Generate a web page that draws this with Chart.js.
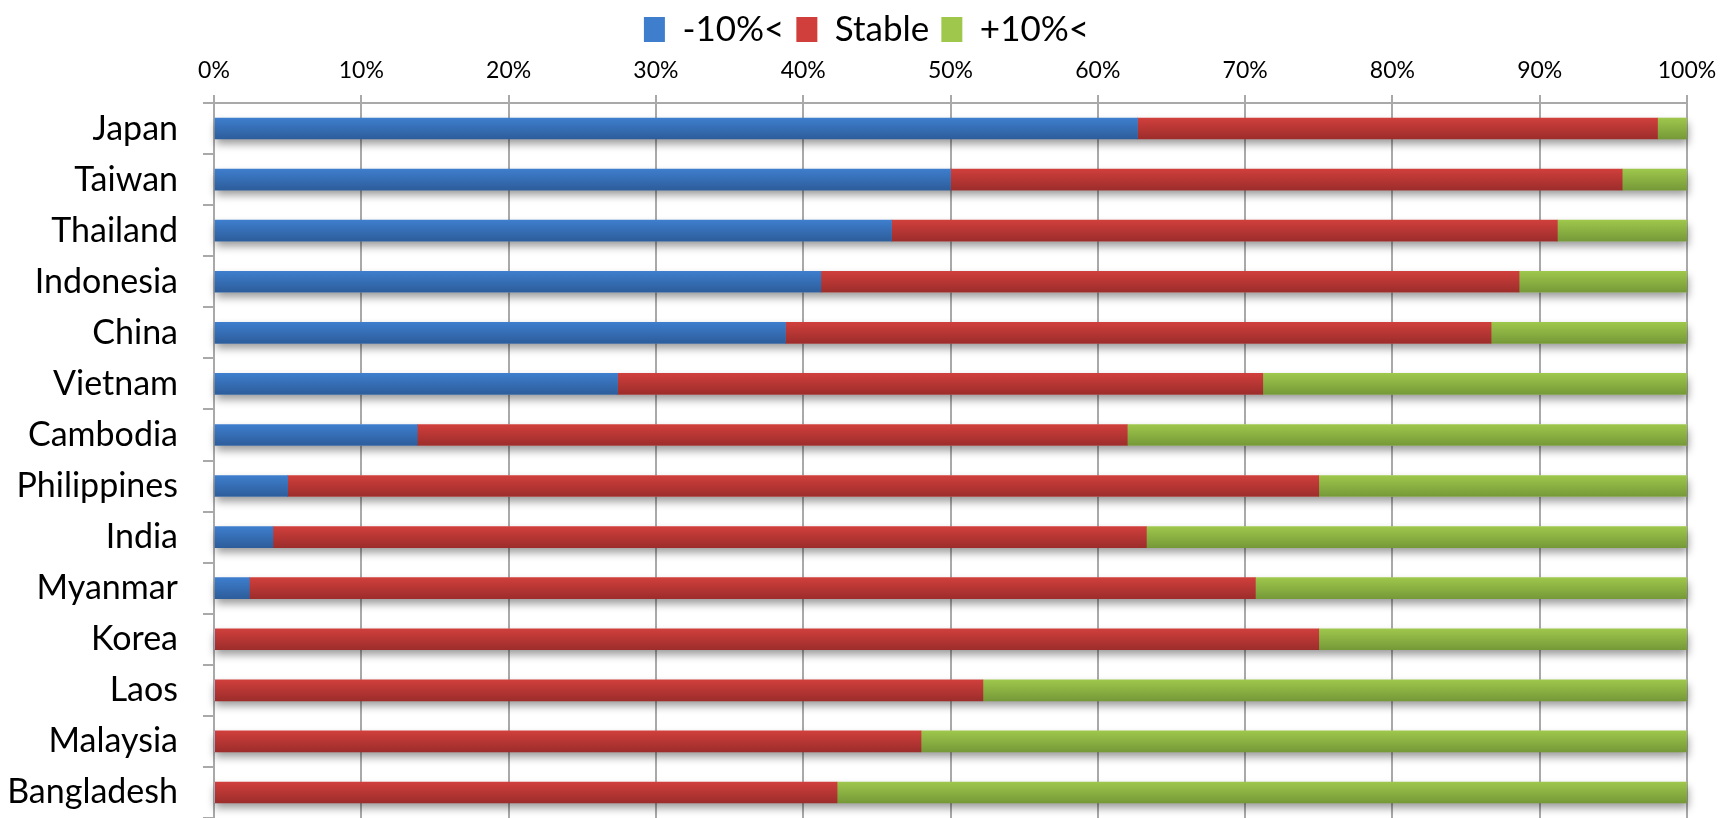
<!DOCTYPE html>
<html>
<head>
<meta charset="utf-8">
<script src="https://cdn.jsdelivr.net/npm/chart.js@4/dist/chart.umd.min.js"></script>
<style>
  html, body { margin: 0; padding: 0; background: #fff; }
  #wrap { width: 1733px; height: 818px; }
</style>
</head>
<body>
<div id="wrap"><canvas id="chart"></canvas></div>
<script>
const COUNTRIES = [ 'Japan', 'Taiwan', 'Thailand', 'Indonesia', 'China', 'Vietnam', 'Cambodia',
  'Philippines', 'India', 'Myanmar', 'Korea', 'Laos', 'Malaysia', 'Bangladesh' ];

// share of answers per country, in percent
const DOWN = [ 62.7, 50.0, 46.0, 41.2, 38.8, 27.4, 13.8, 5.0, 4.0, 2.4, 0, 0, 0, 0 ];
const STABLE = [ 35.3, 45.6, 45.2, 47.4, 47.9, 43.8, 48.2, 70.0, 59.3, 68.3, 75.0, 52.2, 48.0, 42.3 ];
const UP = [ 2.0, 4.4, 8.8, 11.4, 13.3, 28.8, 38.0, 25.0, 36.7, 29.3, 25.0, 47.8, 52.0, 57.7 ];

const FONT = 'Lato, "Open Sans", sans-serif';
const BAR = 21;
const GRID = '#a9a9a9';

// vertical light-to-dark fill for each bar
let shade = function(top, bottom, flat) {
  return function(c) {
    if (c.type !== 'data' || !c.chart.chartArea) return flat;
    let y = c.chart.scales.y.getPixelForValue(c.dataIndex);
    let g = c.chart.ctx.createLinearGradient(0, y - BAR / 2, 0, y + BAR / 2);
    g.addColorStop(0, top);
    g.addColorStop(1, bottom);
    return g;
  };
};

// soft shadow under each full row, painted before the bars
let rowShadow = {
  id: 'rowShadow',
  beforeDatasetsDraw(chart) {
    let ctx = chart.ctx;
    let metas = chart.getSortedVisibleDatasetMetas();
    ctx.save();
    ctx.shadowColor = 'rgba(0, 0, 0, 0.4)';
    ctx.shadowBlur = 8;
    ctx.shadowOffsetY = 5;
    ctx.shadowOffsetX = 1;
    ctx.fillStyle = '#fff';
    COUNTRIES.forEach(function(name, i) {
      let left = Infinity, right = -Infinity, top = 0, h = 0;
      metas.forEach(function(m) {
        let b = m.data[i];
        if (!b) return;
        let p = b.getProps([ 'x', 'y', 'base', 'height' ], true);
        left = Math.min(left, p.x, p.base);
        right = Math.max(right, p.x, p.base);
        top = p.y - p.height / 2;
        h = p.height;
      });
      ctx.fillRect(left, top, right - left, h);
    });
    ctx.restore();
  }
};

new Chart(document.getElementById('chart'), {
  type: 'bar',
  plugins: [ rowShadow ],
  data: {
    labels: COUNTRIES,
    datasets: [
      { label: '-10%<', data: DOWN, backgroundColor: shade('#3e7ecd', '#2d5d9b', '#3670b8'), barThickness: BAR },
      { label: 'Stable', data: STABLE, backgroundColor: shade('#d03f3c', '#9c2d2b', '#c03936'), barThickness: BAR },
      { label: '+10%<', data: UP, backgroundColor: shade('#9ec74c', '#769938', '#8cb443'), barThickness: BAR },
    ],
  },
  options: {
    indexAxis: 'y',
    responsive: true,
    maintainAspectRatio: false,
    animation: false,
    layout: { padding: 0 },
    plugins: {
      legend: {
        position: 'top',
        labels: {
          font: { family: FONT, size: 35 },
          color: '#000',
          boxWidth: 21,
          boxHeight: 25,
          padding: 12,
        },
      },
      tooltip: { enabled: false },
    },
    scales: {
      x: {
        position: 'top',
        stacked: true,
        min: 0,
        max: 100,
        ticks: {
          stepSize: 10,
          padding: 11,
          color: '#000',
          font: { family: FONT, size: 23 },
          callback: (v) => v + '%',
        },
        grid: { color: GRID, lineWidth: 2, tickLength: 8 },
        border: { color: GRID, width: 2 },
        afterFit(scale) {
          let legend = scale.chart.legend;
          scale.height = 103 - (legend ? legend.height : 0);
          scale.paddingRight = 46;
        },
      },
      y: {
        stacked: true,
        ticks: {
          padding: 25,
          color: '#000',
          font: { family: FONT, size: 34 },
        },
        grid: { drawOnChartArea: false, color: GRID, lineWidth: 2, tickLength: 11 },
        border: { color: GRID, width: 2 },
        afterFit(scale) {
          scale.width = 214;
          scale.paddingTop = 0;
          scale.paddingBottom = 0;
        },
      },
    },
  },
});
</script>
</body>
</html>
